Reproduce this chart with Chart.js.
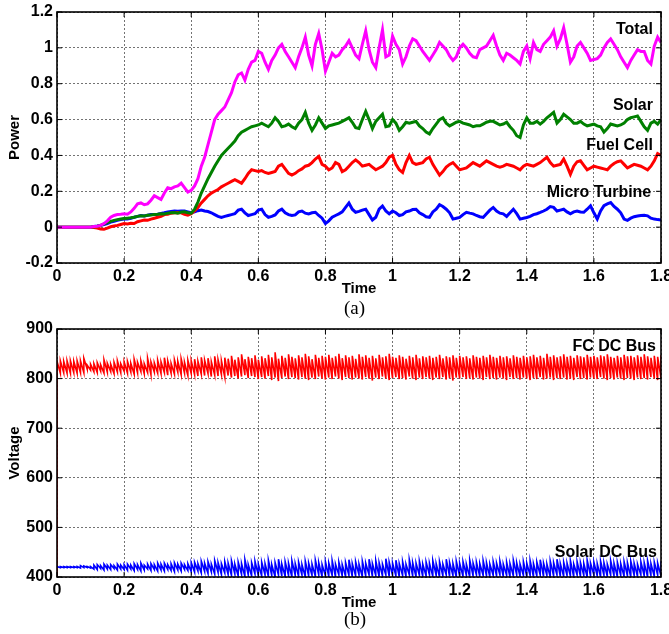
<!DOCTYPE html>
<html lang="en">
<head>
    <meta charset="UTF-8">
    <title>Power and DC bus voltage</title>
    <style>
        body {
            margin: 0;
            padding: 0;
            background: #fff;
        }
        #page {
            position: relative;
            width: 669px;
            height: 634px;
            background: #fff;
        }
        canvas {
            position: absolute;
            left: 0;
        }
        #powerChart { top: 0; }
        #voltChart { top: 317px; }
        .cap {
            position: absolute;
            left: 344px;
            font-family: "Liberation Serif", "Times New Roman", serif;
            font-size: 19px;
            line-height: 20px;
        }
        #capA { top: 298px; }
        #capB { top: 609px; }
    </style>
</head>
<body>
    <div id="page">
        <canvas id="powerChart" width="669" height="300"></canvas>
        <div class="cap" id="capA">(a)</div>
        <canvas id="voltChart" width="669" height="297"></canvas>
        <div class="cap" id="capB">(b)</div>
    </div>

    <script src="https://cdn.jsdelivr.net/npm/chart.js"></script>

    <script>
        // sample grid, 0 .. 1.8 s every 0.01 s
        const time = Array.from({ length: 181 }, (_, i) => i / 100);

        // (a) power, one value per sample
        const totalPower = [
            0, 0, 0, 0, 0, 0, 0, 0, 0, 0,
            0, 0.003, 0.005, 0.01, 0.02, 0.035, 0.055, 0.065, 0.07, 0.072,
            0.075, 0.072, 0.085, 0.105, 0.13, 0.135, 0.125, 0.13, 0.15, 0.175,
            0.165, 0.155, 0.19, 0.22, 0.215, 0.225, 0.23, 0.245, 0.22, 0.195,
            0.205, 0.23, 0.27, 0.34, 0.39, 0.46, 0.53, 0.6, 0.63, 0.65,
            0.67, 0.71, 0.75, 0.81, 0.85, 0.86, 0.82, 0.88, 0.92, 0.93,
            0.98, 0.97, 0.92, 0.88, 0.93, 0.96, 1.0, 1.02, 0.98, 0.95,
            0.92, 0.89, 0.95, 1.0, 1.06, 0.96, 0.9, 1.02, 1.08, 0.99,
            0.87, 0.92, 0.97, 0.95, 0.96, 0.99, 1.01, 1.04, 1.0, 0.96,
            0.94, 1.02, 1.095, 0.99, 0.92, 0.89, 1.0, 1.1, 0.95, 0.96,
            1.066, 1.02, 0.99, 0.91, 0.95, 1.01, 1.05, 1.04, 1.01, 0.98,
            0.955, 0.93, 0.96, 0.99, 1.03, 1.01, 0.99, 0.955, 0.93, 0.95,
            1.0, 1.02, 1.0, 0.97, 0.95, 0.945, 0.99, 1.0, 1.01, 1.04,
            1.07, 1.01, 0.96, 0.93, 0.97, 0.96, 0.945, 0.93, 0.91, 0.98,
            1.01, 0.94, 1.03, 0.99, 0.98, 1.02, 1.04, 1.06, 1.095, 1.01,
            1.05, 1.113, 1.02, 0.92, 0.95, 1.01, 1.03, 1.0, 0.97, 0.93,
            0.935, 0.94, 0.96, 1.0, 1.03, 1.05, 1.02, 0.99, 0.95, 0.92,
            0.89, 0.93, 0.96, 0.99, 0.98, 0.98, 0.93, 0.91, 1.01, 1.06,
            1.03
        ];
        const solarPower = [
            0, 0, 0, 0, 0, 0, 0, 0, 0, 0,
            0, 0.002, 0.005, 0.01, 0.018, 0.025, 0.032, 0.038, 0.042, 0.045,
            0.048, 0.05, 0.052, 0.055, 0.06, 0.063, 0.062, 0.066, 0.068, 0.07,
            0.072, 0.075, 0.073, 0.078, 0.08, 0.082, 0.078, 0.084, 0.086, 0.08,
            0.078, 0.1, 0.14, 0.19, 0.23, 0.27, 0.305, 0.34, 0.37, 0.4,
            0.42, 0.44, 0.46, 0.48, 0.51, 0.53, 0.54, 0.55, 0.56, 0.565,
            0.57, 0.58, 0.57, 0.56, 0.58, 0.61, 0.59, 0.56, 0.565, 0.575,
            0.56, 0.55, 0.58, 0.6, 0.64, 0.58, 0.54, 0.57, 0.61, 0.58,
            0.55, 0.565, 0.57, 0.575, 0.58, 0.59, 0.6, 0.61, 0.585, 0.555,
            0.55, 0.6, 0.645, 0.6, 0.55, 0.59, 0.61, 0.63, 0.56, 0.565,
            0.6, 0.58, 0.54, 0.56, 0.585, 0.58, 0.585, 0.59, 0.565, 0.55,
            0.53, 0.52, 0.55, 0.575, 0.6, 0.61, 0.58, 0.565, 0.575, 0.585,
            0.59, 0.58, 0.575, 0.57, 0.56, 0.565, 0.565, 0.575, 0.585, 0.59,
            0.59, 0.58, 0.57, 0.575, 0.585, 0.56, 0.54, 0.51, 0.5, 0.57,
            0.61, 0.58, 0.58, 0.59, 0.575, 0.59, 0.61, 0.625, 0.64, 0.58,
            0.6, 0.63, 0.615, 0.6, 0.58, 0.58, 0.59, 0.575, 0.565, 0.57,
            0.575, 0.565, 0.56, 0.53, 0.55, 0.575, 0.57, 0.565, 0.57, 0.58,
            0.6, 0.61, 0.615, 0.62, 0.59, 0.56, 0.54, 0.58, 0.59, 0.575,
            0.6
        ];
        const fuelCellPower = [
            0, 0, 0, 0, 0, 0, 0, 0, 0, 0,
            0, -0.002, -0.005, -0.01, -0.012, -0.005, 0.002, 0.006, 0.01, 0.015,
            0.02, 0.018, 0.022, 0.02, 0.03, 0.035, 0.04, 0.038, 0.045, 0.05,
            0.055, 0.06, 0.07, 0.072, 0.078, 0.08, 0.082, 0.08, 0.072, 0.067,
            0.075, 0.09, 0.11, 0.135, 0.155, 0.175, 0.19, 0.2, 0.21, 0.225,
            0.235, 0.245, 0.255, 0.265, 0.255, 0.245, 0.27, 0.3, 0.32, 0.315,
            0.31, 0.315, 0.305, 0.3, 0.305, 0.31, 0.34, 0.35, 0.325, 0.3,
            0.29, 0.3, 0.315, 0.325, 0.34, 0.345, 0.36, 0.38, 0.395, 0.35,
            0.34, 0.32, 0.33, 0.36, 0.35, 0.31, 0.32, 0.34, 0.36, 0.375,
            0.36, 0.34, 0.345, 0.35, 0.335, 0.32, 0.33, 0.34, 0.36, 0.39,
            0.4, 0.35, 0.32, 0.305, 0.36, 0.4, 0.36, 0.35, 0.355, 0.36,
            0.38, 0.39, 0.35, 0.32, 0.29, 0.31, 0.335, 0.35, 0.36, 0.34,
            0.32, 0.325, 0.33, 0.345, 0.36, 0.35, 0.34, 0.355, 0.37, 0.36,
            0.35, 0.34, 0.335, 0.34, 0.35, 0.345, 0.34, 0.33, 0.32, 0.34,
            0.35, 0.345, 0.34, 0.35, 0.36, 0.375, 0.39, 0.36, 0.34, 0.345,
            0.35, 0.38, 0.34, 0.295, 0.34, 0.365, 0.37, 0.345, 0.32, 0.33,
            0.34, 0.335, 0.33, 0.325, 0.32, 0.34, 0.355, 0.365, 0.37, 0.35,
            0.33, 0.34, 0.35, 0.345, 0.34, 0.33, 0.32, 0.34, 0.37, 0.41,
            0.4
        ];
        const microTurbinePower = [
            0, 0, 0, 0, 0, 0, 0, 0, 0, 0,
            0, 0.003, 0.006, 0.01, 0.015, 0.02, 0.028, 0.033, 0.038, 0.042,
            0.045, 0.045, 0.05, 0.055, 0.06, 0.065, 0.062, 0.066, 0.07, 0.071,
            0.072, 0.076, 0.08, 0.085, 0.088, 0.09, 0.088, 0.09, 0.09, 0.085,
            0.08, 0.085, 0.092, 0.095, 0.09, 0.087, 0.08, 0.07, 0.06, 0.054,
            0.06, 0.065, 0.07, 0.075, 0.095, 0.1, 0.08, 0.065, 0.07, 0.075,
            0.095, 0.1, 0.07, 0.055, 0.06, 0.068, 0.09, 0.1, 0.08, 0.07,
            0.065, 0.068, 0.085, 0.09, 0.078, 0.074, 0.08, 0.083, 0.065, 0.05,
            0.02, 0.035, 0.055, 0.065, 0.074, 0.085, 0.11, 0.135, 0.1, 0.083,
            0.088, 0.095, 0.1, 0.07, 0.04, 0.055, 0.1, 0.118, 0.09, 0.074,
            0.09, 0.08, 0.065, 0.07, 0.085, 0.09, 0.098, 0.1, 0.08, 0.07,
            0.058, 0.055, 0.085, 0.1, 0.125, 0.115, 0.1, 0.08, 0.045, 0.05,
            0.054, 0.07, 0.083, 0.078, 0.074, 0.065, 0.058, 0.054, 0.075, 0.095,
            0.11, 0.09, 0.078, 0.074, 0.06, 0.08, 0.1, 0.075, 0.045, 0.05,
            0.054, 0.06, 0.07, 0.075, 0.082, 0.09, 0.1, 0.115, 0.11, 0.09,
            0.095, 0.1, 0.085, 0.074, 0.085, 0.09, 0.085, 0.083, 0.1, 0.119,
            0.08, 0.045, 0.09, 0.12, 0.13, 0.137, 0.115, 0.1, 0.08, 0.045,
            0.038, 0.05, 0.058, 0.062, 0.065, 0.066, 0.063, 0.05, 0.045, 0.042,
            0.04
        ];

        // (b) voltage ripple, upper and lower swing per sample
        const fcBusHigh = [
            835, 836, 835, 836, 836, 835, 836, 836, 841, 827,
            829, 830, 832, 828, 838, 831, 829, 833, 836, 830,
            834, 835, 831, 839, 833, 836, 830, 841, 834, 832,
            837, 834, 842, 836, 831, 838, 835, 840, 833, 837,
            836, 839, 835, 843, 837, 841, 834, 845, 838, 836,
            842, 840, 846, 838, 843, 849, 839, 844, 841, 847,
            838, 845, 841, 848, 843, 853, 840, 846, 842, 849,
            844, 841, 847, 843, 850, 845, 839, 848, 842, 846,
            844, 848, 842, 845, 850, 841, 847, 843, 846, 840,
            849, 844, 847, 842, 846, 841, 848, 843, 845, 850,
            844, 842, 847, 844, 840, 846, 843, 848, 841, 845,
            843, 846, 842, 844, 848, 841, 845, 843, 847, 842,
            846, 843, 845, 841, 847, 844, 842, 846, 843, 848,
            844, 842, 846, 843, 845, 841, 847, 844, 842, 846,
            843, 845, 848, 843, 846, 842, 850, 844, 847, 843,
            845, 849, 844, 846, 842, 847, 845, 843, 848, 844,
            846, 843, 847, 845, 849, 844, 842, 846, 843, 848,
            845, 846, 843, 847, 844, 849, 845, 842, 846, 844,
            847
        ];
        const fcBusLow = [
            400, 811, 812, 811, 811, 812, 811, 812, 812, 819,
            817, 814, 812, 815, 811, 813, 814, 810, 813, 812,
            815, 811, 813, 809, 812, 814, 810, 812, 808, 813,
            811, 810, 812, 807, 811, 809, 813, 808, 811, 806,
            810, 808, 805, 809, 806, 810, 804, 807, 805, 808,
            803, 806, 802, 805, 800, 804, 807, 801, 805, 803,
            799, 803, 800, 805, 797, 802, 795, 801, 804, 799,
            803, 801, 798, 803, 800, 797, 802, 799, 804, 800,
            798, 802, 799, 804, 800, 797, 803, 801, 798, 802,
            800, 798, 803, 800, 796, 802, 799, 804, 800, 797,
            801, 803, 799, 801, 798, 804, 800, 797, 802, 799,
            803, 800, 797, 802, 799, 803, 798, 801, 796, 802,
            800, 803, 799, 801, 798, 802, 800, 797, 803, 799,
            801, 798, 802, 800, 797, 803, 799, 801, 798, 802,
            800, 797, 801, 799, 803, 798, 800, 802, 797, 801,
            799, 802, 798, 800, 797, 803, 799, 801, 798, 802,
            800, 799, 803, 800, 797, 801, 798, 802, 800, 797,
            801, 800, 797, 802, 799, 801, 798, 803, 800, 797,
            801
        ];
        const solarBusHigh = [
            421, 421, 421, 421, 421, 421, 421, 423, 422, 421,
            421, 424, 425, 423, 426, 424, 425, 423, 426, 424,
            425, 426, 424, 427, 425, 428, 424, 426, 427, 425,
            428, 426, 428, 425, 427, 429, 426, 428, 425, 427,
            429, 430, 427, 432, 428, 431, 426, 433, 429, 427,
            431, 428, 433, 426, 430, 427, 435, 425, 429, 432,
            426, 430, 427, 434, 425, 429, 436, 426, 431, 428,
            433, 427, 430, 425, 432, 428, 426, 434, 429, 425,
            431, 428, 433, 426, 430, 425, 429, 435, 427, 431,
            426, 432, 428, 436, 427, 433, 429, 426, 437, 430,
            428, 434, 427, 431, 426, 435, 429, 428, 432, 426,
            430, 428, 433, 427, 431, 426, 436, 429, 427, 432,
            428, 431, 426, 434, 428, 430, 427, 433, 429, 426,
            431, 428, 432, 426, 430, 427, 434, 429, 426, 431,
            428, 433, 427, 430, 435, 428, 426, 432, 429, 436,
            427, 430, 428, 433, 426, 431, 429, 427, 434, 428,
            430, 427, 432, 429, 426, 433, 428, 430, 427, 431,
            429, 432, 428, 426, 431, 429, 433, 427, 430, 428,
            432
        ];
        const solarBusLow = [
            419, 419, 419, 419, 419, 419, 419, 418, 419, 419,
            418, 416, 415, 417, 414, 416, 415, 417, 414, 416,
            415, 414, 416, 413, 415, 412, 414, 416, 413, 415,
            412, 414, 412, 415, 413, 411, 414, 412, 415, 413,
            411, 410, 412, 408, 411, 407, 410, 406, 409, 405,
            408, 405, 403, 406, 402, 405, 401, 404, 402, 406,
            403, 402, 404, 401, 403, 400, 404, 402, 401, 403,
            400, 403, 401, 404, 400, 402, 403, 401, 404, 400,
            402, 401, 403, 400, 404, 402, 401, 403, 400, 402,
            404, 400, 402, 404, 401, 403, 400, 402, 404, 401,
            403, 402, 400, 403, 401, 404, 402, 400, 403, 401,
            402, 404, 401, 403, 400, 402, 404, 401, 403, 400,
            402, 401, 403, 400, 402, 404, 401, 403, 402, 400,
            403, 402, 404, 401, 403, 400, 402, 404, 401, 403,
            401, 403, 400, 402, 404, 401, 403, 400, 402, 404,
            401, 401, 403, 402, 400, 404, 401, 403, 400, 402,
            404, 402, 400, 403, 401, 404, 402, 400, 403, 401,
            402, 400, 403, 401, 404, 402, 400, 403, 401, 404,
            402
        ];

        const xTicks = [0, 0.2, 0.4, 0.6, 0.8, 1, 1.2, 1.4, 1.6, 1.8];

        Chart.defaults.font.family = '"Liberation Sans", Arial, sans-serif';
        Chart.defaults.font.size = 16;
        Chart.defaults.font.weight = 'bold';
        Chart.defaults.color = '#000';

        const toPoints = ys => ys.map((y, i) => ({ x: time[i], y: y }));
        // ripple drawn as a zigzag between the two swings (low first so t=0 is a vertical jump)
        const toBand = (hi, lo) => hi.flatMap((h, i) => [{ x: time[i], y: lo[i] }, { x: time[i], y: h }]);

        const fmt = v => String(+v.toFixed(1));

        // black box round the plot with inward ticks, like matlab
        const boxFrame = {
            id: 'boxFrame',
            afterDraw(chart) {
                const { ctx, chartArea: a } = chart;
                const sx = chart.scales.x, sy = chart.scales.y;
                ctx.save();
                ctx.strokeStyle = '#000';
                ctx.lineWidth = 1;
                ctx.beginPath();
                sx.ticks.forEach(t => {
                    const px = sx.getPixelForValue(t.value);
                    ctx.moveTo(px, a.bottom); ctx.lineTo(px, a.bottom - 5);
                    ctx.moveTo(px, a.top); ctx.lineTo(px, a.top + 5);
                });
                sy.ticks.forEach(t => {
                    const py = sy.getPixelForValue(t.value);
                    ctx.moveTo(a.left, py); ctx.lineTo(a.left + 5, py);
                    ctx.moveTo(a.right, py); ctx.lineTo(a.right - 5, py);
                });
                ctx.stroke();
                ctx.lineWidth = 1.6;
                ctx.strokeRect(a.left, a.top, a.right - a.left, a.bottom - a.top);
                ctx.restore();
            }
        };

        // series names written inside the plot, right aligned
        const seriesNames = {
            id: 'seriesNames',
            afterDatasetsDraw(chart, args, opts) {
                const { ctx } = chart;
                ctx.save();
                ctx.font = 'bold 16px "Liberation Sans", Arial, sans-serif';
                ctx.fillStyle = '#000';
                ctx.textAlign = 'right';
                ctx.textBaseline = 'middle';
                opts.items.forEach(it => {
                    ctx.fillText(it.text, chart.scales.x.getPixelForValue(it.x), chart.scales.y.getPixelForValue(it.y));
                });
                ctx.restore();
            }
        };

        function makeOptions(yTitle, yMin, yMax, yStep, names, bottomPad) {
            return {
                responsive: false,
                animation: false,
                events: [],
                layout: { padding: { top: 12, right: 8, bottom: bottomPad, left: 0 } },
                plugins: {
                    legend: { display: false },
                    tooltip: { enabled: false },
                    seriesNames: { items: names }
                },
                elements: { point: { radius: 0 }, line: { tension: 0 } },
                scales: {
                    x: {
                        type: 'linear',
                        min: 0,
                        max: 1.8,
                        afterBuildTicks: s => { s.ticks = xTicks.map(v => ({ value: v })); },
                        afterFit: s => { s.height = 35; s.paddingLeft = 0; s.paddingRight = 0; },
                        ticks: { padding: 4, maxRotation: 0, autoSkip: false, callback: fmt },
                        grid: { color: 'rgba(0,0,0,0.55)', drawTicks: false },
                        border: { display: false, dash: [2, 2] },
                        title: { display: true, text: 'Time', font: { size: 15, weight: 'bold' }, padding: 0 }
                    },
                    y: {
                        min: yMin,
                        max: yMax,
                        afterFit: s => { s.width = 57; s.paddingTop = 0; s.paddingBottom = 0; },
                        ticks: { stepSize: yStep, padding: 4, callback: fmt },
                        grid: { color: 'rgba(0,0,0,0.55)', drawTicks: false },
                        border: { display: false, dash: [2, 2] },
                        title: { display: true, text: yTitle, font: { size: 15, weight: 'bold' }, padding: { top: 6, bottom: 0 } }
                    }
                }
            };
        }

        new Chart(document.getElementById('powerChart'), {
            type: 'line',
            data: {
                datasets: [
                    { label: 'Total', data: toPoints(totalPower), borderColor: '#ff00ff', borderWidth: 3 },
                    { label: 'Solar', data: toPoints(solarPower), borderColor: '#008000', borderWidth: 3 },
                    { label: 'Fuel Cell', data: toPoints(fuelCellPower), borderColor: '#ff0000', borderWidth: 3 },
                    { label: 'Micro Turbine', data: toPoints(microTurbinePower), borderColor: '#0000ff', borderWidth: 3 }
                ]
            },
            options: makeOptions('Power', -0.2, 1.2, 0.2, [
                { text: 'Total', x: 1.776, y: 1.1 },
                { text: 'Solar', x: 1.776, y: 0.68 },
                { text: 'Fuel Cell', x: 1.776, y: 0.457 },
                { text: 'Micro Turbine', x: 1.771, y: 0.19 }
            ], 2),
            plugins: [boxFrame, seriesNames]
        });

        new Chart(document.getElementById('voltChart'), {
            type: 'line',
            data: {
                datasets: [
                    { label: 'Solar DC Bus', data: toBand(solarBusHigh, solarBusLow), borderColor: '#0000ff', borderWidth: 1.6 },
                    { label: 'FC DC Bus', data: toBand(fcBusHigh, fcBusLow), borderColor: '#ff0000', borderWidth: 1.6 }
                ]
            },
            options: makeOptions('Voltage', 400, 900, 100, [
                { text: 'FC DC Bus', x: 1.785, y: 864 },
                { text: 'Solar DC Bus', x: 1.788, y: 450 }
            ], 2),
            plugins: [boxFrame, seriesNames]
        });
    </script>
</body>
</html>
